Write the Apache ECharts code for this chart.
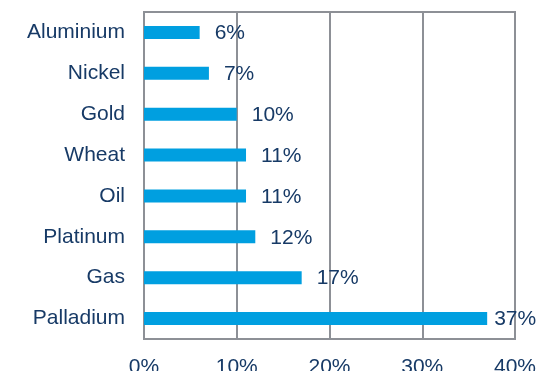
<!DOCTYPE html>
<html>
<head>
<meta charset="utf-8">
<script src="https://cdn.jsdelivr.net/npm/echarts@6/dist/echarts.min.js"></script>
<style>
  html, body { margin: 0; padding: 0; background: #ffffff; }
  #chart { width: 539px; height: 371px; }
</style>
</head>
<body>
<div id="chart"></div>
<script>
// Commodities, top to bottom, with their percentage values
const categories = ['Aluminium', 'Nickel', 'Gold', 'Wheat', 'Oil', 'Platinum', 'Gas', 'Palladium'];
const values = [6, 7, 10, 11, 11, 12, 17, 37];
const axisMin = 0;
const axisMax = 40;
const axisStep = 10;

const textColor = '#173a66';
const gridColor = '#8d9096';
const barColor = '#009fe0';
const font = '"Liberation Sans", Arial, sans-serif';
const fontSize = 21;

const chart = echarts.init(document.getElementById('chart'), null, { renderer: 'canvas' });

const seriesData = values.map((v, i) => ({
  value: v,
  // the longest bar keeps its label tighter so it stays inside the frame
  label: { distance: i === values.length - 1 ? 7 : 15 }
}));

chart.setOption({
  animation: false,
  backgroundColor: '#ffffff',
  grid: {
    left: 144, right: 24, top: 12, height: 327,
    outerBoundsMode: 'none',
    show: true, borderColor: gridColor, borderWidth: 2, backgroundColor: 'transparent'
  },
  xAxis: {
    type: 'value',
    min: axisMin, max: axisMax, interval: axisStep,
    axisLine: { show: false },
    axisTick: { show: false },
    splitLine: { show: true, lineStyle: { color: gridColor, width: 2 } },
    axisLabel: {
      formatter: '{value}%', color: textColor, fontSize: fontSize,
      fontFamily: font, margin: 18
    }
  },
  yAxis: {
    type: 'category',
    data: categories,
    inverse: true,
    axisLine: { show: false },
    axisTick: { show: false },
    splitLine: { show: false },
    axisLabel: { color: textColor, fontSize: fontSize, fontFamily: font, margin: 19 }
  },
  series: [{
    type: 'bar',
    data: seriesData,
    barWidth: 13,
    itemStyle: { color: barColor },
    label: {
      show: true, position: 'right', formatter: '{c}%',
      color: textColor, fontSize: fontSize, fontFamily: font, offset: [0, 1]
    }
  }]
});
</script>
</body>
</html>
